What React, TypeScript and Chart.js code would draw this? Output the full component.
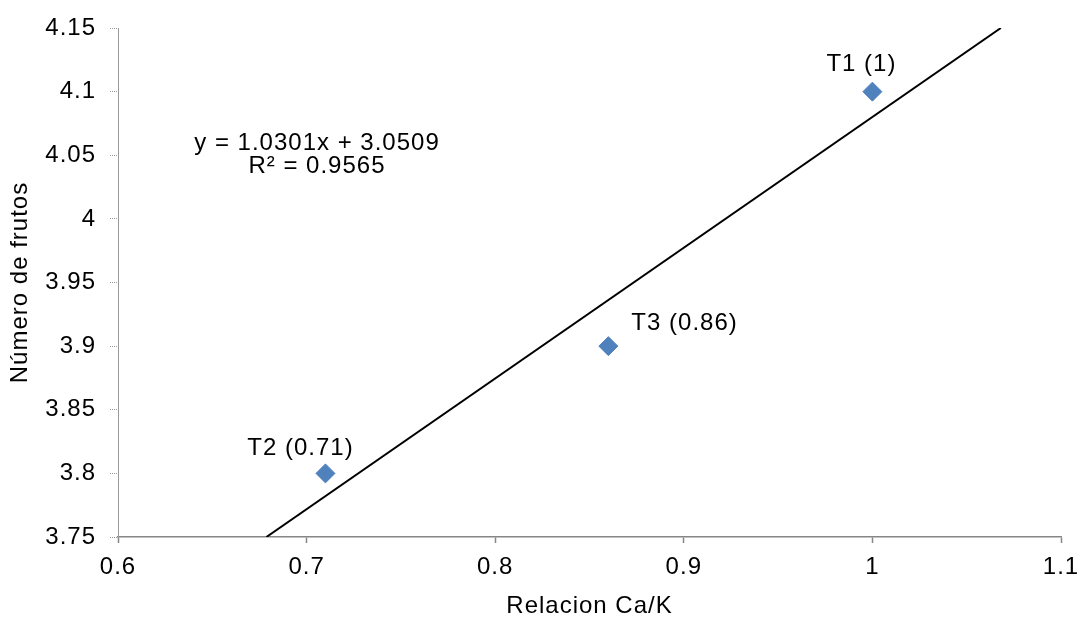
import React, { useEffect, useRef } from "react";
import { Chart, registerables } from "chart.js";

Chart.register(...registerables);

// ---- data ----
const treatments = ["T1 (1)", "T2 (0.71)", "T3 (0.86)"];
const caKRatio = [1, 0.71, 0.86];
const fruitCount = [4.1, 3.8, 3.9];
// linear trendline, end points where it meets the plot frame
const trendX = [0.6787, 1.0681];
const trendY = [3.75, 4.15];
const equationLines = ["y = 1.0301x + 3.0509", "R² = 0.9565"];
const xTitle = "Relacion Ca/K";
const yTitle = "Número de frutos";
const xMin = 0.6;
const xMax = 1.1;
const xStep = 0.1;
const yMin = 3.75;
const yMax = 4.15;
const yStep = 0.05;

const FONT = "'Liberation Sans', Arial, Helvetica, sans-serif";
const FS = 24;
const SPACING = "1px";

// label placement (offset from the marker)
const labelPlacement = [
  { dx: -11, dy: -27, align: "center" },
  { dx: -25, dy: -25, align: "center" },
  { dx: 23, dy: -23, align: "left" },
];
// equation anchor (data coordinates) and line spacing
const eqAnchor = { x: 0.7055, y: 4.0596, lineGap: 23 };

const fmt = (v: any) => String(Number(Number(v).toFixed(2)));

const annotPlugin = {
  id: "annot",
  beforeUpdate(chart: any) {
    chart.ctx.letterSpacing = SPACING;
  },
  beforeDraw(chart: any) {
    chart.ctx.letterSpacing = SPACING;
  },
  afterDatasetsDraw(chart: any) {
    const ctx = chart.ctx;
    const xs = chart.scales.x;
    const ys = chart.scales.y;
    ctx.save();
    ctx.letterSpacing = SPACING;
    ctx.font = `${FS}px ${FONT}`;
    ctx.fillStyle = "#000";
    ctx.textBaseline = "middle";
    const meta = chart.getDatasetMeta(0);
    meta.data.forEach((el: any, i: number) => {
      const p = labelPlacement[i];
      ctx.textAlign = p.align;
      ctx.fillText(treatments[i], el.x + p.dx, el.y + p.dy);
    });
    ctx.textAlign = "center";
    const ex = xs.getPixelForValue(eqAnchor.x);
    const ey = ys.getPixelForValue(eqAnchor.y);
    equationLines.forEach((t, i) => ctx.fillText(t, ex, ey + i * eqAnchor.lineGap));
    ctx.restore();
  },
};

export default function App() {
  const ref = useRef<HTMLCanvasElement | null>(null);

  useEffect(() => {
    if (!ref.current) return;
    const chart = new Chart(ref.current, {
      type: "scatter",
      data: {
        datasets: [
          {
            label: "Número de frutos",
            data: caKRatio.map((x, i) => ({ x, y: fruitCount[i] })),
            pointStyle: "rectRot",
            pointRadius: 9.5,
            pointHoverRadius: 9.5,
            backgroundColor: "#4F81BD",
            borderColor: "#4F81BD",
            borderWidth: 1,
          },
          {
            label: "Lineal",
            data: trendX.map((x, i) => ({ x, y: trendY[i] })),
            showLine: true,
            pointRadius: 0,
            borderColor: "#000",
            borderWidth: 2,
            fill: false,
          },
        ],
      },
      options: {
        responsive: false,
        animation: false,
        devicePixelRatio: 1,
        layout: { padding: { left: 0, top: 28, right: 18, bottom: 0 } },
        plugins: {
          legend: { display: false },
          tooltip: { enabled: false },
        },
        scales: {
          x: {
            type: "linear",
            min: xMin,
            max: xMax,
            ticks: {
              stepSize: xStep,
              callback: fmt,
              font: { family: FONT, size: FS },
              color: "#000",
              padding: 10,
              maxRotation: 0,
              autoSkip: false,
            },
            grid: {
              display: true,
              drawOnChartArea: false,
              drawTicks: true,
              tickLength: 6,
              tickColor: "#868686",
              tickWidth: 1.5,
            },
            border: { display: true, color: "#868686", width: 1.5 },
            title: {
              display: true,
              text: xTitle,
              color: "#000",
              font: { family: FONT, size: FS, lineHeight: 1 },
              padding: { top: 0, bottom: 0 },
            },
            afterFit(s: any) {
              s.height = 81;
              s.paddingLeft = 0;
              s.paddingRight = 0;
            },
          },
          y: {
            type: "linear",
            min: yMin,
            max: yMax,
            ticks: {
              stepSize: yStep,
              callback: fmt,
              font: { family: FONT, size: FS },
              color: "#000",
              padding: 14,
              autoSkip: false,
            },
            grid: {
              display: true,
              drawOnChartArea: false,
              drawTicks: true,
              tickLength: 8,
              tickColor: "#9a9a9a",
              tickWidth: 1,
              tickBorderDash: [1, 1],
            },
            border: { display: true, color: "#9a9a9a", width: 1, dash: [1, 1] },
            title: {
              display: true,
              text: yTitle,
              color: "#000",
              font: { family: FONT, size: FS, lineHeight: 1 },
              padding: { top: 8, bottom: 0 },
            },
            afterFit(s: any) {
              s.width = 118;
              s.paddingTop = 0;
              s.paddingBottom = 0;
            },
          },
        },
      } as any,
      plugins: [annotPlugin],
    });
    return () => chart.destroy();
  }, []);

  return (
    <div
      style={{
        position: "fixed",
        left: 0,
        top: 0,
        width: 1079,
        height: 618,
        background: "#fff",
      }}
    >
      <canvas
        ref={ref}
        width={1079}
        height={618}
        style={{ display: "block", width: 1079, height: 618 }}
      />
    </div>
  );
}
